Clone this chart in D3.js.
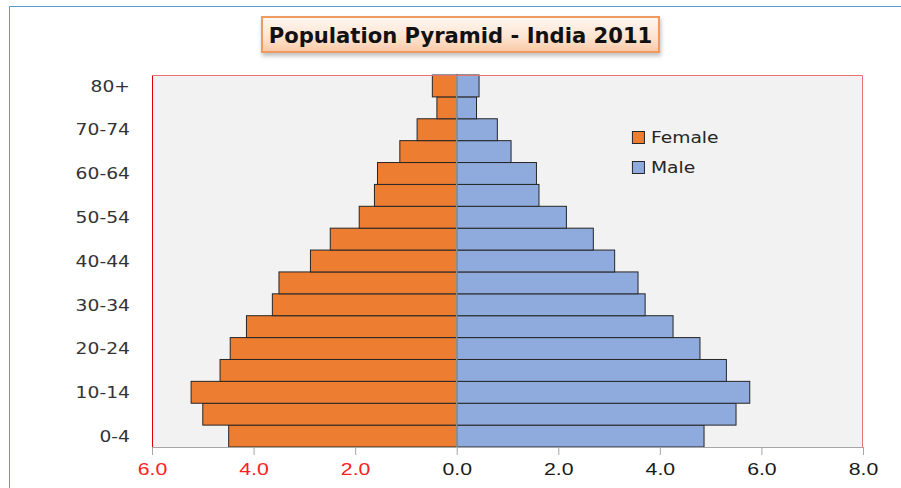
<!DOCTYPE html>
<html>
<head>
<meta charset="utf-8">
<script src="https://cdn.jsdelivr.net/npm/d3@7"></script>
<style>
  body { margin: 0; background: #fff; }
  svg { display: block; }
</style>
</head>
<body>
<script>
// age groups, bottom to top
var ageGroups = ["0-4","5-9","10-14","15-19","20-24","25-29","30-34","35-39","40-44",
                 "45-49","50-54","55-59","60-64","65-69","70-74","75-79","80+"];
// percent of population
var female = [4.49, 5.00, 5.23, 4.66, 4.46, 4.14, 3.63, 3.50, 2.88,
              2.49, 1.92, 1.62, 1.56, 1.12, 0.78, 0.39, 0.48];
var male   = [4.87, 5.50, 5.77, 5.31, 4.79, 4.26, 3.71, 3.57, 3.11,
              2.69, 2.16, 1.62, 1.57, 1.07, 0.80, 0.39, 0.44];
var xTicks = [-6, -4, -2, 0, 2, 4, 6, 8];
var seriesNames = ["Female", "Male"];
var title = "Population Pyramid - India 2011";

var W = 901, H = 488;
var margin = {top: 75, right: 38, bottom: 41, left: 152};
var width = W - margin.left - margin.right,
    height = H - margin.top - margin.bottom;

var colors = {Female: "#ED7D31", Male: "#8FAADC"};

var svg = d3.select("body").append("svg")
    .attr("width", W)
    .attr("height", H);

// outer chart frame (only top and left visible)
svg.append("path")
    .attr("d", "M9.5," + H + "V6.5H" + W)
    .attr("fill", "none")
    .attr("stroke", "#5B9BD5")
    .attr("stroke-width", 1);

var x = d3.scaleLinear().domain([-6, 8]).range([0, width]);
var y = d3.scaleBand().domain(ageGroups).range([height, 0]).padding(0);

var g = svg.append("g")
    .attr("transform", "translate(" + margin.left + "," + margin.top + ")");

// plot background
g.append("rect")
    .attr("width", width)
    .attr("height", height)
    .attr("fill", "#F2F2F2");

// stretch text horizontally to match the look of the original
function stretch(sel, sx) {
  sel.each(function() {
    var t = d3.select(this);
    var tx = +t.attr("x") || 0, ty = +t.attr("y") || 0;
    t.attr("transform", "translate(" + tx + "," + ty + ") scale(" + sx + ",1) translate(" + (-tx) + "," + (-ty) + ")");
  });
}

// bars
var rows = ageGroups.map(function(a, i) { return {age: a, f: female[i], m: male[i]}; });

g.append("g").selectAll("rect")
    .data(rows)
  .enter().append("rect")
    .attr("x", function(d) { return x(-d.f); })
    .attr("y", function(d) { return y(d.age); })
    .attr("width", function(d) { return x(0) - x(-d.f); })
    .attr("height", y.bandwidth())
    .attr("fill", colors.Female)
    .attr("stroke", "#262626")
    .attr("stroke-width", 1);

g.append("g").selectAll("rect")
    .data(rows)
  .enter().append("rect")
    .attr("x", x(0))
    .attr("y", function(d) { return y(d.age); })
    .attr("width", function(d) { return x(d.m) - x(0); })
    .attr("height", y.bandwidth())
    .attr("fill", colors.Male)
    .attr("stroke", "#262626")
    .attr("stroke-width", 1);

// zero line
g.append("line")
    .attr("x1", x(0)).attr("x2", x(0))
    .attr("y1", 0).attr("y2", height)
    .attr("stroke", "#8C8C8C")
    .attr("stroke-width", 1.5);

// plot border (red left/top/right)
g.append("path")
    .attr("d", "M0.5," + height + "V0.5")
    .attr("stroke", "#E00000").attr("fill", "none");
g.append("path")
    .attr("d", "M0.5,0.5H" + (width - 0.5) + "V" + height)
    .attr("stroke", "#E57373").attr("fill", "none");

// x axis
var xAxis = g.append("g")
    .attr("transform", "translate(0," + height + ")")
    .call(d3.axisBottom(x).tickValues(xTicks).tickSize(8)
      .tickFormat(function(d) { return Math.abs(d).toFixed(1); }));
xAxis.select(".domain").attr("stroke", "#A6A6A6");
xAxis.selectAll(".tick line").attr("stroke", "#A6A6A6");
xAxis.selectAll(".tick text")
    .attr("y", 16)
    .attr("dy", "0.71em")
    .style("font-family", "'Liberation Sans', Arial, sans-serif")
    .style("font-size", "17px")
    .attr("fill", function(d) { return d < 0 ? "#FF2020" : "#1a1a1a"; })
    .call(stretch, 1.25);

// y labels (every other age group)
g.append("g").selectAll("text")
    .data(ageGroups.filter(function(a, i) { return i % 2 === 0; }))
  .enter().append("text")
    .attr("x", -22)
    .attr("y", function(d) { return y(d) + y.bandwidth() / 2; })
    .attr("dy", "0.36em")
    .attr("text-anchor", "end")
    .style("font-family", "'DejaVu Sans', sans-serif")
    .style("font-size", "16px")
    .attr("fill", "#333")
    .text(function(d) { return d; })
    .call(stretch, 1.17);

// legend
var legend = g.append("g")
    .attr("transform", "translate(" + (x(3.45)) + "," + (56) + ")");
var li = legend.selectAll("g")
    .data(seriesNames)
  .enter().append("g")
    .attr("transform", function(d, i) { return "translate(0," + (i * 30) + ")"; });
li.append("rect")
    .attr("x", 0.5).attr("y", 0.5)
    .attr("width", 12).attr("height", 12)
    .attr("fill", function(d) { return colors[d]; })
    .attr("stroke", "#262626");
li.append("text")
    .attr("x", 19)
    .attr("y", 6.5)
    .attr("dy", "0.36em")
    .style("font-family", "'DejaVu Sans', sans-serif")
    .style("font-size", "16px")
    .attr("fill", "#262626")
    .text(function(d) { return d; })
    .call(stretch, 1.17);

// title box
var defs = svg.append("defs");
var grad = defs.append("linearGradient")
    .attr("id", "tgrad").attr("x1", 0).attr("y1", 0).attr("x2", 0).attr("y2", 1);
grad.append("stop").attr("offset", "0%").attr("stop-color", "#FFF8F2");
grad.append("stop").attr("offset", "60%").attr("stop-color", "#FDE3CF");
grad.append("stop").attr("offset", "100%").attr("stop-color", "#F8C8A4");
var filt = defs.append("filter").attr("id", "tshadow")
    .attr("x", "-10%").attr("y", "-30%").attr("width", "120%").attr("height", "180%");
filt.append("feDropShadow").attr("dx", 1).attr("dy", 3).attr("stdDeviation", 2)
    .attr("flood-color", "#000").attr("flood-opacity", 0.25);

var tb = {x: 262, y: 17, w: 397, h: 35};
svg.append("rect")
    .attr("x", tb.x).attr("y", tb.y)
    .attr("width", tb.w).attr("height", tb.h)
    .attr("fill", "url(#tgrad)")
    .attr("stroke", "#EE9A60")
    .attr("stroke-width", 2)
    .attr("filter", "url(#tshadow)");

var tt = svg.append("text")
    .attr("x", tb.x + tb.w / 2)
    .attr("y", tb.y + tb.h / 2 + 1)
    .attr("dy", "0.36em")
    .attr("text-anchor", "middle")
    .style("font-family", "'DejaVu Sans', sans-serif")
    .style("font-weight", "bold")
    .style("font-size", "21px")
    .attr("fill", "#111")
    .text(title);
var tw = tt.node().getComputedTextLength();
tt.call(stretch, 384 / tw);
</script>
</body>
</html>
